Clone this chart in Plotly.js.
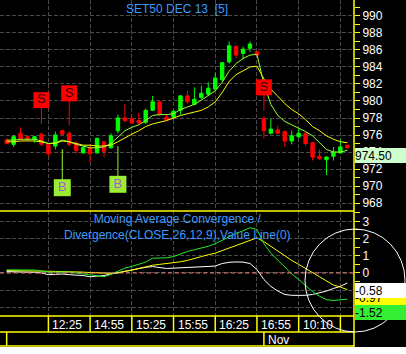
<!DOCTYPE html>
<html><head><meta charset="utf-8">
<script src="https://cdn.plot.ly/plotly-3.0.1.min.js"></script>
<style>html,body{margin:0;padding:0;background:#000;}</style>
</head><body><div id="chart" style="width:406px;height:354px;"></div>
<script>
// ---------- DATA ----------
const barIdx = [0,1,2,3,4,5,6,7,8,9,10,11,12,13,14,15,16,17,18,19,20,21,22,23,24,25,26,27,28,29,30,31,32,33,34,35,36,37,38,39,40,41,42,43,44,45,46,47,48,49];
const openP  = [975.4,974.9,976.2,975.8,975.5,976.1,974.9,974.7,976.5,976.2,975.0,973.9,974.5,973.9,975.2,974.5,976.5,978.0,977.9,977.7,977.5,978.9,979.9,978.1,978.1,978.9,980.6,979.6,980.4,980.8,981.4,982.5,984.6,986.4,985.6,986.2,985.8,977.9,976.2,976.6,976.4,975.3,975.8,976.2,975.1,973.5,973.1,973.5,973.9,974.8];
const highP  = [975.6,976.0,976.9,976.0,975.9,976.3,975.0,976.4,976.6,976.5,975.3,974.7,974.9,975.7,975.3,976.2,978.4,979.6,978.2,978.6,979.1,980.6,979.9,978.4,978.9,980.7,981.2,981.6,981.8,982.2,983.3,984.6,987.0,986.6,986.4,987.0,985.9,978.2,977.9,977.1,976.5,976.5,976.7,976.3,975.2,974.3,973.5,974.6,975.5,974.8];
const lowP   = [974.9,974.6,975.4,975.3,975.1,974.7,973.5,974.3,976.0,974.6,973.8,973.8,972.8,973.8,973.4,974.4,976.2,977.5,977.3,977.2,977.3,978.8,978.2,977.6,977.8,978.4,979.7,979.5,980.2,980.6,981.3,982.3,984.4,985.1,984.9,985.8,985.3,975.6,976.1,976.1,974.6,974.9,975.6,974.7,973.0,973.1,971.3,973.0,973.8,974.4];
const closeP = [975.0,975.8,975.6,975.5,975.8,974.9,973.8,976.0,976.1,974.9,974.2,974.5,973.8,975.6,974.1,975.9,978.0,977.7,977.4,977.4,978.9,979.9,978.4,977.8,978.8,980.6,979.9,980.2,980.9,981.5,982.7,984.5,986.5,985.4,986.1,986.7,985.4,976.5,976.7,976.2,975.3,975.9,976.2,975.0,973.4,973.2,973.4,974.0,974.6,974.5];
const maFast = [975.4,975.4,975.5,975.5,975.5,975.3,975.0,975.1,975.4,975.2,974.9,974.7,974.5,974.5,974.6,975.0,975.8,976.5,976.9,977.2,977.7,978.3,978.4,978.4,978.5,979.0,979.3,979.6,980.1,980.6,981.2,982.2,983.5,984.4,985.0,985.4,985.5,982.0,979.6,978.3,977.6,977.2,976.8,976.4,975.9,975.1,974.3,974.0,974.0,974.2];
const maSlow = [975.2,975.2,975.3,975.3,975.3,975.2,975.0,975.0,975.3,975.2,975.0,974.8,974.8,974.7,974.7,974.8,975.2,975.7,976.1,976.5,977.0,977.3,977.5,977.7,978.0,978.3,978.5,978.7,978.9,979.3,979.9,981.0,982.3,983.1,983.6,984.0,984.1,982.6,981.4,980.5,979.7,979.0,978.5,977.8,977.0,976.5,975.9,975.5,975.2,975.1];
const macdGreen  = [0.18,0.18,0.18,0.18,0.17,0.12,0.04,0.05,0.06,0.06,0.0,-0.05,-0.12,-0.15,-0.22,-0.08,0.1,0.28,0.38,0.5,0.63,0.86,0.87,0.88,0.95,1.1,1.25,1.35,1.45,1.55,1.7,1.9,2.1,2.3,2.45,2.63,2.53,1.7,1.15,0.75,0.3,-0.05,-0.38,-0.75,-1.08,-1.35,-1.55,-1.6,-1.57,-1.52];
const macdYellow = [0.14,0.14,0.14,0.14,0.14,0.13,0.1,0.09,0.09,0.08,0.07,0.05,0.02,0.0,-0.02,-0.02,0.02,0.08,0.16,0.26,0.36,0.45,0.5,0.55,0.58,0.65,0.73,0.82,0.95,1.06,1.15,1.3,1.45,1.62,1.77,1.92,2.04,1.82,1.55,1.25,0.96,0.73,0.5,0.28,0.02,-0.22,-0.48,-0.7,-0.82,-0.97];
const macdWhite  = [0.08,0.08,0.07,0.06,0.04,0.0,-0.1,-0.08,-0.06,-0.1,-0.12,-0.15,-0.22,-0.2,-0.15,-0.05,0.0,0.1,0.18,0.28,0.33,0.37,0.33,0.26,0.28,0.3,0.32,0.35,0.37,0.37,0.4,0.55,0.62,0.64,0.63,0.55,0.2,-0.38,-0.78,-1.05,-1.25,-1.3,-1.3,-1.3,-1.25,-1.15,-1.05,-0.9,-0.78,-0.58];
const sellIdx = [5, 9, 37];
const sellMarkY = [980.1, 980.9, 981.6];
const sellStemEnd = [977.3, 977.2, 978.9];
const buyIdx = [8, 16];
const buyMarkY = [969.8, 970.2];
const buyStemEnd = [974.35, 974.7];
const xTickIdx = [6, 12, 18, 24, 30, 36, 42, 48];
const xTickText = ['12:25', '14:55', '15:25', '15:55', '16:25', '16:55', '10:10', ''];
const dateIdx = [0, 37];
const dateText = ['', 'Nov'];
const lastPrice = 974.50;
const macdLast = {white: -0.58, yellow: -0.97, green: -1.52};
const titleText = 'SET50 DEC 13\u00a0 [5]';
const macdTitle = 'Moving Average Convergence /<br>Divergence(CLOSE,26,12,9),Value Line(0)';

// ---------- STYLE ----------
const FONT = 'Liberation Sans, Arial, sans-serif';
const BLUE = '#3d9bff';
const YEL = '#ffff00';
const GRID = '#4a4a4a';
const PH = 316; // plot height in px
const pp = p => (PH - p) / PH; // pixel row -> paper y (decoration placement)
const PW = 354;

function stems(idx, a, b) {
  const xs = [], ys = [];
  idx.forEach((v, k) => { xs.push(v, v, null); ys.push(a[k], b[k], null); });
  return {xs, ys};
}
const sStem = stems(sellIdx, sellMarkY, sellStemEnd);
const bStem = stems(buyIdx, buyMarkY, buyStemEnd);

const traces = [
  {type: 'candlestick', x: barIdx, open: openP, high: highP, low: lowP, close: closeP,
   xaxis: 'x', yaxis: 'y', whiskerwidth: 0, hoverinfo: 'skip',
   increasing: {line: {color: '#00ff00', width: 1}, fillcolor: '#00ff00'},
   decreasing: {line: {color: '#ff0000', width: 1}, fillcolor: '#ff0000'}},
  {type: 'scatter', mode: 'lines', x: barIdx, y: maSlow, line: {color: '#ffff00', width: 1}, xaxis: 'x', yaxis: 'y'},
  {type: 'scatter', mode: 'lines', x: barIdx, y: maFast, line: {color: '#99ff33', width: 1}, xaxis: 'x', yaxis: 'y'},
  {type: 'scatter', mode: 'lines', x: sStem.xs, y: sStem.ys, line: {color: '#ff0000', width: 1}, xaxis: 'x', yaxis: 'y'},
  {type: 'scatter', mode: 'lines', x: bStem.xs, y: bStem.ys, line: {color: '#99ee33', width: 1}, xaxis: 'x', yaxis: 'y'},
  {type: 'scatter', mode: 'markers+text', x: sellIdx, y: sellMarkY, text: sellIdx.map(() => 'S'),
   textposition: 'middle center', textfont: {family: FONT, size: 13, color: '#3a0000'},
   marker: {symbol: 'square', size: 16, color: '#ff0000', line: {width: 0}}, xaxis: 'x', yaxis: 'y'},
  {type: 'scatter', mode: 'markers+text', x: buyIdx, y: buyMarkY, text: buyIdx.map(() => 'B'),
   textposition: 'middle center', textfont: {family: FONT, size: 13, color: '#b05ad0'},
   marker: {symbol: 'square', size: 17, color: '#99ee33', line: {width: 0}}, xaxis: 'x', yaxis: 'y'},
  {type: 'scatter', mode: 'lines', x: barIdx, y: macdWhite, line: {color: '#ffffff', width: 1}, xaxis: 'x', yaxis: 'y2'},
  {type: 'scatter', mode: 'lines', x: barIdx, y: macdYellow, line: {color: '#ffff00', width: 1}, xaxis: 'x', yaxis: 'y2'},
  {type: 'scatter', mode: 'lines', x: barIdx, y: macdGreen, line: {color: '#22ee22', width: 1}, xaxis: 'x', yaxis: 'y2'}
];

const shapes = [
  {type: 'line', xref: 'paper', yref: 'y2', x0: 0, x1: 1, y0: 0, y1: 0, line: {color: '#ff8080', width: 1, dash: '4px,3px'}},
  {type: 'line', xref: 'paper', yref: 'paper', x0: 0, x1: 1, y0: pp(211), y1: pp(211), line: {color: YEL, width: 1.5}},
  {type: 'line', xref: 'paper', yref: 'paper', x0: 0, x1: 1, y0: pp(316), y1: pp(316), line: {color: YEL, width: 1.5}},
  {type: 'line', xref: 'paper', yref: 'paper', x0: 0, x1: 1, y0: pp(332), y1: pp(332), line: {color: YEL, width: 1.5}},
  {type: 'line', xref: 'paper', yref: 'paper', x0: 0, x1: 1, y0: pp(346), y1: pp(346), line: {color: YEL, width: 1.5}},
  {type: 'rect', xref: 'paper', yref: 'paper', x0: -0.01, x1: 1.2, y0: pp(347), y1: pp(356), fillcolor: '#ffffff', line: {width: 0}},
  {type: 'line', xref: 'paper', yref: 'paper', x0: 1, x1: 1, y0: 1, y1: pp(347), line: {color: YEL, width: 1.5}}
];
xTickIdx.forEach(v => shapes.push({type: 'line', xref: 'x', yref: 'paper', x0: v, x1: v, y0: pp(316), y1: pp(332), line: {color: YEL, width: 1.5}}));
dateIdx.forEach(v => shapes.push({type: 'line', xref: 'x', yref: 'paper', x0: v, x1: v, y0: pp(332), y1: pp(346), line: {color: YEL, width: 1.5}}));
shapes.push({type: 'circle', xref: 'paper', yref: 'paper', x0: 305 / PW, x1: 405 / PW, y0: pp(332), y1: pp(229), line: {color: '#ffffff', width: 1}});

const annotations = [
  {text: macdTitle, xref: 'paper', yref: 'paper', x: 0.5, y: pp(227), xanchor: 'center', yanchor: 'middle',
   showarrow: false, font: {family: FONT, size: 12, color: BLUE}, align: 'center'}
];
xTickIdx.forEach((v, k) => annotations.push({text: xTickText[k], xref: 'x', yref: 'paper', x: v, y: pp(324.5),
  xanchor: 'left', yanchor: 'middle', xshift: 2, showarrow: false, font: {family: FONT, size: 12, color: '#ffffff'}}));
dateIdx.forEach((v, k) => annotations.push({text: dateText[k], xref: 'x', yref: 'paper', x: v, y: pp(339.5),
  xanchor: 'left', yanchor: 'middle', xshift: 2, showarrow: false, font: {family: FONT, size: 12, color: '#ffffff'}}));
const box = (txt, yref, y, bg, ysh) => ({text: txt, xref: 'paper', yref: yref, x: 355 / PW, y: y, xanchor: 'left', yanchor: 'top',
  yshift: ysh, width: 51, height: 15, borderpad: 0, borderwidth: 0, bgcolor: bg, align: 'left', valign: 'middle',
  showarrow: false, font: {family: FONT, size: 12, color: '#000000'}});
annotations.push(box(lastPrice.toFixed(2), 'y', lastPrice, '#ccffcc', 0));
annotations.push(box(macdLast.yellow.toFixed(2), 'y2', macdLast.yellow, '#ffff00', 0));
annotations.push(box(macdLast.white.toFixed(2), 'y2', macdLast.white, '#ffffff', 0));
annotations.push(box(macdLast.green.toFixed(2), 'y2', macdLast.green, '#33ee33', -6));

const layout = {
  width: 406, height: 354,
  margin: {l: 0, r: 52, t: 0, b: 38, pad: 0},
  paper_bgcolor: '#000000', plot_bgcolor: '#000000',
  showlegend: false, hovermode: false,
  title: {text: titleText, x: 0.5, xref: 'paper', xanchor: 'center', y: 1 - 8.5 / 354, yref: 'container', yanchor: 'middle',
    font: {family: FONT, size: 12, color: BLUE}},
  xaxis: {range: [-0.96, 49.96], anchor: 'y2', tickmode: 'array', tickvals: xTickIdx, showticklabels: false, ticks: '',
    showgrid: true, gridcolor: GRID, gridwidth: 1, griddash: '4px,2px', zeroline: false, showline: false,
    rangeslider: {visible: false}, fixedrange: true},
  yaxis: {domain: [pp(211), 1], range: [967.06, 991.88], side: 'right', anchor: 'x', tickmode: 'linear', tick0: 968, dtick: 2,
    ticks: 'outside', ticklen: 5, tickcolor: YEL, tickwidth: 1,
    minor: {dtick: 1, tick0: 967, ticks: 'outside', ticklen: 5, tickcolor: YEL, showgrid: false},
    tickfont: {family: FONT, size: 12, color: '#ffffff'}, showgrid: true, gridcolor: GRID, griddash: '4px,2px',
    zeroline: false, showline: false, fixedrange: true},
  yaxis2: {domain: [0, pp(211)], range: [-2.5, 3.6], side: 'right', anchor: 'x', tickmode: 'array',
    tickvals: [-2, -1, 0, 1, 2, 3], ticktext: ['', '', '0', '1', '2', '3'],
    ticks: 'outside', ticklen: 5, tickcolor: YEL, tickwidth: 1,
    minor: {dtick: 0.5, tick0: 0, ticks: 'outside', ticklen: 5, tickcolor: YEL, showgrid: false},
    tickfont: {family: FONT, size: 12, color: '#ffffff'}, showgrid: true, gridcolor: GRID, griddash: '4px,2px',
    zeroline: false, showline: false, fixedrange: true},
  shapes: shapes,
  annotations: annotations
};

Plotly.newPlot('chart', traces, layout, {staticPlot: true, displayModeBar: false});
</script></body></html>
